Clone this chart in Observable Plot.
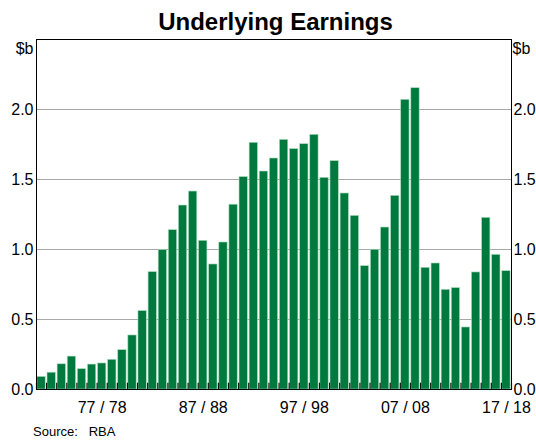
<!DOCTYPE html>
<html>
<head>
<meta charset="utf-8">
<script src="https://cdn.jsdelivr.net/npm/d3@7"></script>
<script src="https://cdn.jsdelivr.net/npm/@observablehq/plot@0.6"></script>
<style>
  body { margin: 0; background: white; }
  #wrap { position: relative; width: 536px; height: 440px; overflow: hidden; font-family: "Liberation Sans", Arial, sans-serif; }
  #title { position: absolute; top: 8px; left: 0; width: 551px; text-align: center; font-weight: bold; font-size: 24px; line-height: 28px; color: #000; z-index: 2; }
  #chart { position: absolute; top: 30px; left: 0; }
  #source { position: absolute; left: 33px; top: 424px; font-size: 13px; line-height: 16px; white-space: pre; color: #000; }
</style>
</head>
<body>
<div id="wrap">
  <div id="chart"></div>
  <div id="title">Underlying Earnings</div>
  <div id="source">Source:   RBA</div>
</div>
<script>
// Fiscal years (July–June)
const fiscalYears = [
  "71/72","72/73","73/74","74/75","75/76","76/77","77/78","78/79","79/80","80/81",
  "81/82","82/83","83/84","84/85","85/86","86/87","87/88","88/89","89/90","90/91",
  "91/92","92/93","93/94","94/95","95/96","96/97","97/98","98/99","99/00","00/01",
  "01/02","02/03","03/04","04/05","05/06","06/07","07/08","08/09","09/10","10/11",
  "11/12","12/13","13/14","14/15","15/16","16/17","17/18"
];
// Underlying earnings, $b
const earnings = [
  0.09, 0.12, 0.18, 0.235, 0.145, 0.178, 0.186, 0.212, 0.281, 0.386,
  0.56, 0.838, 0.995, 1.138, 1.314, 1.414, 1.062, 0.893, 1.05, 1.32,
  1.517, 1.762, 1.557, 1.65, 1.783, 1.717, 1.752, 1.819, 1.512, 1.631,
  1.40, 1.24, 0.881, 0.998, 1.157, 1.383, 2.069, 2.152, 0.869, 0.90,
  0.712, 0.724, 0.443, 0.836, 1.226, 0.962, 0.845
];
const xTickLabels = ["77/78", "87/88", "97/98", "07/08", "17/18"];
const yTicks = [0, 0.5, 1.0, 1.5, 2.0];
const unitLabel = "$b";

const endYear = (fy) => { const e = +fy.slice(3); return e < 50 ? 2000 + e : 1900 + e; };
const data = fiscalYears.map((fy, i) => ({ fy, end: endYear(fy), value: earnings[i] }));
const boundaries = [endYear(fiscalYears[0]) - 1, ...data.map(d => d.end)];
const tickPos = xTickLabels.map(l => endYear(l) - 0.5);
const tickMap = new Map(tickPos.map((p, i) => [p, xTickLabels[i].replace("/", " / ")]));

const chart = Plot.plot({
  width: 536,
  height: 389,
  marginTop: 9,
  marginLeft: 36,
  marginRight: 25,
  marginBottom: 30,
  style: { fontFamily: "'Liberation Sans', Arial, sans-serif", fontSize: "16px", background: "white", color: "#000", overflow: "visible" },
  x: { type: "linear", domain: [boundaries[0], boundaries[boundaries.length - 1]] },
  y: { domain: [0, 2.5] },
  marks: [
    Plot.gridY(yTicks.filter(t => t > 0), { stroke: "#a8a8a8", strokeOpacity: 1, strokeWidth: 1 }),
    Plot.rectY(data, {
      x1: d => d.end - 1, x2: d => d.end, y1: 0, y2: "value",
      fill: "#00793f", stroke: "#a9dbb9", strokeWidth: 0.6,
      insetLeft: 0.9, insetRight: 0.9
    }),
    Plot.ruleX(boundaries, { x: d => d, y1: 0, y2: 0.045, stroke: "#111", strokeWidth: 1.2 }),
    Plot.frame({ stroke: "#000", strokeWidth: 1 }),
    Plot.axisY(yTicks, { anchor: "left", tickSize: 0, tickPadding: 3, tickFormat: d3.format(".1f"), label: null, fontSize: 16 }),
    Plot.axisY(yTicks, { anchor: "right", tickSize: 0, tickPadding: 2, tickFormat: d3.format(".1f"), label: null, fontSize: 16 }),
    Plot.axisX(tickPos, { tickSize: 0, tickPadding: 12, tickFormat: d => tickMap.get(d), label: null, fontSize: 16 }),
    Plot.text([unitLabel], { frameAnchor: "top-left", text: d => d, textAnchor: "end", dx: -3, dy: 9, lineAnchor: "middle", fontSize: 16 }),
    Plot.text([unitLabel], { frameAnchor: "top-right", text: d => d, textAnchor: "start", dx: 1, dy: 9, lineAnchor: "middle", fontSize: 16 })
  ]
});
document.getElementById("chart").appendChild(chart);
</script>
</body>
</html>
